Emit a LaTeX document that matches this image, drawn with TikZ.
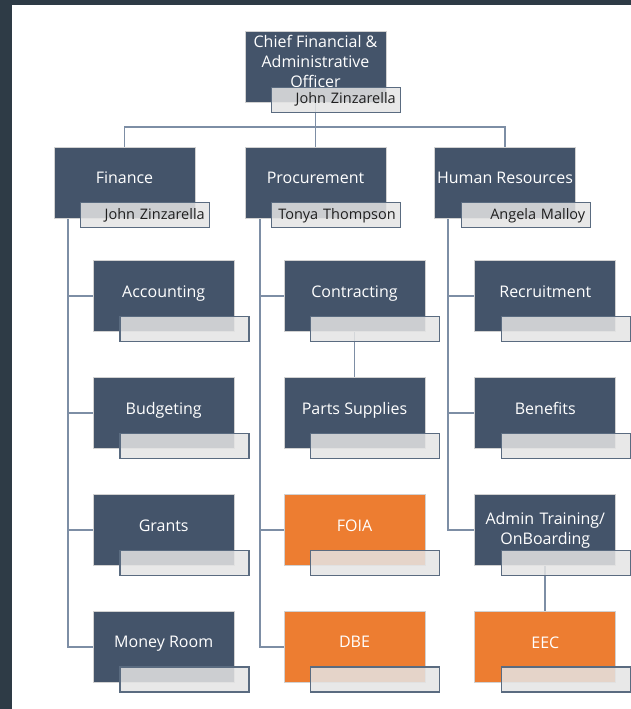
\documentclass[tikz,border=0pt]{standalone}
\usepackage{fontspec}
\setmainfont{Open Sans}
\usepackage{tikz}
\usetikzlibrary{matrix,backgrounds}
\definecolor{unitblue}{HTML}{44546A}
\definecolor{unitorange}{HTML}{ED7D31}
\definecolor{linkgray}{HTML}{7D8EA5}
\definecolor{holderfill}{HTML}{E4E4E4}
\definecolor{holderline}{HTML}{5A6B80}
\definecolor{framedark}{HTML}{2E3B46}
\newcommand{\holder}[2]{\node[holder, anchor=south east] (#1-h) at ([shift={(15,10)}]#1.south east) {#2};}

\begin{document}
\begin{tikzpicture}[x=1pt, y=-1pt,
		unitbox/.style={fill=unitblue, draw=white!82!black, line width=0.8pt, minimum width=141pt, minimum height=71pt,
			inner sep=0pt, text=white, font=\fontsize{16}{20}\selectfont, text depth=9pt},
		twoline/.style={align=center, text depth=},
		hot/.style={fill=unitorange},
		holder/.style={fill=holderfill, fill opacity=0.85, text opacity=1, draw=holderline, line width=1.3pt,
			minimum height=25pt, text width=119pt, inner xsep=5pt, inner ysep=0pt, align=right,
			text=black!88, font=\fontsize{14.5}{17}\selectfont},
		link/.style={draw=linkgray, line width=1.9pt}]
	\useasboundingbox (0,0) rectangle (631,709);

	\node[unitbox, twoline] (cfo) at (315.5,67) {Chief Financial \&\\Administrative\\Officer\\[-8pt]\mbox{}};
	\node[unitbox] (fin) at (124.5,182.5) {Finance};
	\node[unitbox] (proc) at (315.5,182.5) {Procurement};
	\node[unitbox] (hr) at (505,182.5) {Human Resources};

	\matrix (m) at (354.5,471.5) [matrix of nodes, nodes={unitbox, anchor=center}, row sep=45pt, column sep=49pt, inner sep=0pt]
	{ Accounting & Contracting & Recruitment \\
	  Budgeting & Parts Supplies & Benefits \\
	  Grants & |[hot]| FOIA & |[twoline, text width=130pt]| Admin Training/ OnBoarding \\
	  Money Room & |[hot]| DBE & |[hot]| EEC \\};

	\holder{cfo}{John Zinzarella}
	\holder{fin}{John Zinzarella}
	\holder{proc}{Tonya Thompson}
	\holder{hr}{Angela Malloy}
	\holder{m-1-1}{} \holder{m-2-1}{} \holder{m-3-1}{} \holder{m-4-1}{}
	\holder{m-1-2}{} \holder{m-2-2}{} \holder{m-3-2}{} \holder{m-4-2}{}
	\holder{m-1-3}{} \holder{m-2-3}{} \holder{m-3-3}{} \holder{m-4-3}{}

	\begin{scope}[on background layer]
		\fill[framedark] (0,0) rectangle (631,709);
		\fill[white] (12,5) rectangle (631,709);
		\draw[link] (cfo.south) -- ++(0,24) coordinate (hub);
		\draw[link] (hub) -| (fin.north);
		\draw[link] (hub) -| (hr.north);
		\draw[link] (hub) -- (proc.north);
		% finance column
		\draw[link] ([shift={(14,0)}]fin.south west) |- (m-1-1.west);
		\draw[link] ([shift={(14,0)}]fin.south west) |- (m-2-1.west);
		\draw[link] ([shift={(14,0)}]fin.south west) |- (m-3-1.west);
		\draw[link] ([shift={(14,0)}]fin.south west) |- (m-4-1.west);
		% procurement column
		\draw[link] ([shift={(15,0)}]proc.south west) |- (m-1-2.west);
		\draw[link] ([shift={(15,0)}]proc.south west) |- (m-3-2.west);
		\draw[link] ([shift={(15,0)}]proc.south west) |- (m-4-2.west);
		\draw[link] (m-1-2.south) -- (m-2-2.north);
		% hr column
		\draw[link] ([shift={(14,0)}]hr.south west) |- (m-1-3.west);
		\draw[link] ([shift={(14,0)}]hr.south west) |- (m-2-3.west);
		\draw[link] ([shift={(14,0)}]hr.south west) |- (m-3-3.west);
		\draw[link] (m-3-3.south) -- (m-4-3.north);
	\end{scope}
\end{tikzpicture}
\end{document}
